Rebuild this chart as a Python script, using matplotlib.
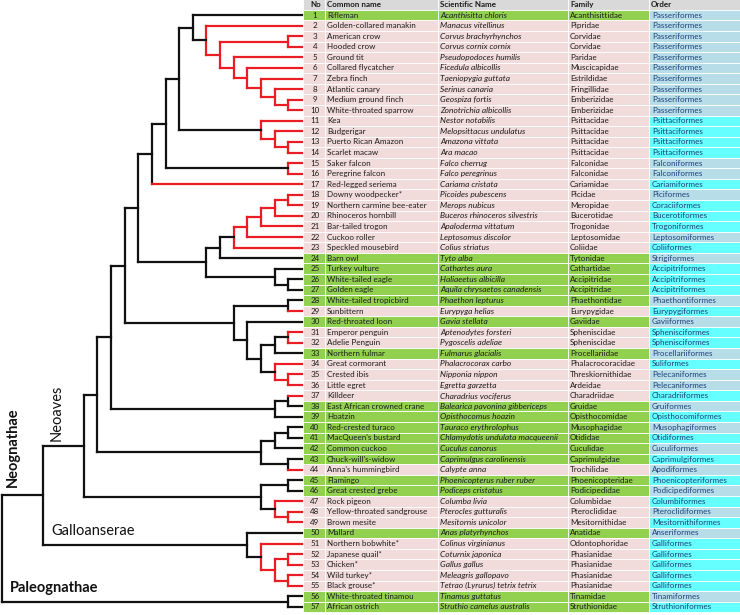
import matplotlib
matplotlib.use("Agg")
import matplotlib.pyplot as plt
from matplotlib.patches import Rectangle

plt.rcParams['font.family'] = ['Lato', 'DejaVu Sans']

# ---- table data ----
common_names = [
    "Rifleman", "Golden-collared manakin", "American crow", "Hooded crow", "Ground tit",
    "Collared flycatcher", "Zebra finch", "Atlantic canary", "Medium ground finch",
    "White-throated sparrow", "Kea", "Budgerigar", "Puerto Rican Amazon", "Scarlet macaw",
    "Saker falcon", "Peregrine falcon", "Red-legged seriema", "Downy woodpecker*",
    "Northern carmine bee-eater", "Rhinoceros hornbill", "Bar-tailed trogon", "Cuckoo roller",
    "Speckled mousebird", "Barn owl", "Turkey vulture", "White-tailed eagle", "Golden eagle",
    "White-tailed tropicbird", "Sunbittern", "Red-throated loon", "Emperor penguin",
    "Adelie Penguin", "Northern fulmar", "Great cormorant", "Crested ibis", "Little egret",
    "Killdeer", "East African crowned crane", "Hoatzin", "Red-crested turaco",
    "MacQueen's bustard", "Common cuckoo", "Chuck-will's-widow", "Anna's hummingbird",
    "Flamingo", "Great crested grebe", "Rock pigeon", "Yellow-throated sandgrouse",
    "Brown mesite", "Mallard", "Northern bobwhite*", "Japanese quail*", "Chicken*",
    "Wild turkey*", "Black grouse*", "White-throated tinamou", "African ostrich"]

sci_names = [
    "Acanthisitta chloris", "Manacus vitellinus", "Corvus brachyrhynchos", "Corvus cornix cornix",
    "Pseudopodoces humilis", "Ficedula albicollis", "Taeniopygia guttata", "Serinus canaria",
    "Geospiza fortis", "Zonotrichia albicollis", "Nestor notabilis", "Melopsittacus undulatus",
    "Amazona vittata", "Ara macao", "Falco cherrug", "Falco peregrinus", "Cariama cristata",
    "Picoides pubescens", "Merops nubicus", "Buceros rhinoceros silvestris", "Apaloderma vittatum",
    "Leptosomus discolor", "Colius striatus", "Tyto alba", "Cathartes aura", "Haliaeetus albicilla",
    "Aquila chrysaetos canadensis", "Phaethon lepturus", "Eurypyga helias", "Gavia stellata",
    "Aptenodytes forsteri", "Pygoscelis adeliae", "Fulmarus glacialis", "Phalacrocorax carbo",
    "Nipponia nippon", "Egretta garzetta", "Charadrius vociferus", "Balearica pavonina gibbericeps",
    "Opisthocomus hoazin", "Tauraco erythrolophus", "Chlamydotis undulata macqueenii",
    "Cuculus canorus", "Caprimulgus carolinensis", "Calypte anna", "Phoenicopterus ruber ruber",
    "Podiceps cristatus", "Columba livia", "Pterocles gutturalis", "Mesitornis unicolor",
    "Anas platyrhynchos", "Colinus virginianus", "Coturnix japonica", "Gallus gallus",
    "Meleagris gallopavo", "Tetrao (Lyrurus) tetrix tetrix", "Tinamus guttatus",
    "Struthio camelus australis"]

families = [
    "Acanthisittidae", "Pipridae", "Corvidae", "Corvidae", "Paridae", "Muscicapidae",
    "Estrildidae", "Fringillidae", "Emberizidae", "Emberizidae", "Psittacidae", "Psittacidae",
    "Psittacidae", "Psittacidae", "Falconidae", "Falconidae", "Cariamidae", "Picidae",
    "Meropidae", "Bucerotidae", "Trogonidae", "Leptosomidae", "Coliidae", "Tytonidae",
    "Cathartidae", "Accipitridae", "Accipitridae", "Phaethontidae", "Eurypygidae", "Gaviidae",
    "Spheniscidae", "Spheniscidae", "Procellariidae", "Phalacrocoracidae", "Threskiornithidae",
    "Ardeidae", "Charadriidae", "Gruidae", "Opisthocomidae", "Musophagidae", "Otididae",
    "Cuculidae", "Caprimulgidae", "Trochilidae", "Phoenicopteridae", "Podicipedidae",
    "Columbidae", "Pteroclididae", "Mesitornithidae", "Anatidae", "Odontophoridae",
    "Phasianidae", "Phasianidae", "Phasianidae", "Phasianidae", "Tinamidae", "Struthionidae"]

orders = (["Passeriformes"] * 10 + ["Psittaciformes"] * 4 + ["Falconiformes"] * 2 + [
    "Cariamiformes", "Piciformes", "Coraciiformes", "Bucerotiformes", "Trogoniformes",
    "Leptosomiformes", "Coliiformes", "Strigiformes", "Accipitriformes", "Accipitriformes",
    "Accipitriformes", "Phaethontiformes", "Eurypygiformes", "Gaviiformes", "Sphenisciformes",
    "Sphenisciformes", "Procellariiformes", "Suliformes", "Pelecaniformes", "Pelecaniformes",
    "Charadriiformes", "Gruiformes", "Opisthocomiformes", "Musophagiformes", "Otidiformes",
    "Cuculiformes", "Caprimulgiformes", "Apodiformes", "Phoenicopteriformes",
    "Podicipediformes", "Columbiformes", "Pteroclidiformes", "Mesitornithiformes",
    "Anseriformes"] + ["Galliformes"] * 5 + ["Tinamiformes", "Struthioniformes"])

# rows highlighted pink (red branches); the rest are green
red_rows = list(range(2, 24)) + [29, 31, 32, 34, 35, 36, 37, 44, 47, 48, 49, 51, 52, 53, 54, 55]
# rows whose Order cell is bright cyan
cyan_rows = [11, 12, 13, 14, 17, 19, 20, 21, 23, 25, 26, 27, 29, 31, 32, 34, 37, 39, 41,
             43, 45, 47, 49, 51, 52, 53, 54, 55, 57]

headers = ["No", "Common name", "Scientific Name", "Family", "Order"]

# ---- tree: leaves are row numbers, internal labels are depth levels ----
passer = "(1,(2,((3,4)1,(5,(6,(7,(8,(9,10)1)2)3)4)5)6)7)8"
psitta = "(11,(12,(13,14)1)2)3"
c151 = "(((" + passer + "," + psitta + ")9,(15,16)1)10,17)11"
c207 = "(((((((18,19)1,20)2,21)3,22)4,23)5,24)6,(25,(26,27)1)2)7"
c233 = "((28,29)1,(30,(((31,32)1,33)2,(34,(35,36)1)2)3)4)5"
c111 = "(((" + c151 + "," + c207 + ")12," + c233 + ")13,((37,38)1,39)2)14"
c97 = "(" + c111 + ",(((40,41)1,42)2,(43,44)1)3)15"
neoaves = "(" + c97 + ",((45,46)1,(47,(48,49)1)2)3)16"
galloans = "(50,(51,((52,53)1,(54,55)1)2)3)4"
tree = "((" + neoaves + "," + galloans + ")19,(56,57)1)22"


def parse(s, i=0):
    if s[i] == "(":
        kids = []
        i += 1
        while True:
            node, i = parse(s, i)
            kids.append(node)
            if s[i] == ",":
                i += 1
            else:
                break
        i += 1  # ')'
        j = i
        while j < len(s) and s[j].isdigit():
            j += 1
        return {"kids": kids, "level": int(s[i:j])}, j
    j = i
    while s[j].isdigit():
        j += 1
    return int(s[i:j]), j


root, _ = parse(tree)

LEAF_X = 302
STEP = 13.65
RED = "#ec1c24"
BLACK = "#111111"

fig = plt.figure(figsize=(7.4, 6.15), dpi=100)
ax = fig.add_axes([0, 0, 1, 1])
ax.set_xlim(0, 740)
ax.set_ylim(57.76, -0.43)
ax.axis("off")


def layout(node):
    # returns (x, y, all_red)
    if isinstance(node, int):
        return LEAF_X, node, node in red_rows
    res = [layout(k) for k in node["kids"]]
    x = LEAF_X - node["level"] * STEP
    ys = [r[1] for r in res]
    y = (min(ys) + max(ys)) / 2
    allred = all(r[2] for r in res)
    col = RED if allred else BLACK
    ax.plot([x, x], [min(ys), max(ys)], color=col, lw=1.6, solid_capstyle="projecting", zorder=3)
    for k, (cx, cy, cred) in zip(node["kids"], res):
        if isinstance(k, int):
            c = RED if cred else BLACK
        else:
            c = col
        ax.plot([x, cx], [cy, cy], color=c, lw=1.6, solid_capstyle="projecting", zorder=3)
    return x, y, allred


layout(root)

# ---- table ----
col_edges = [303, 325, 438, 568, 649, 740]
GREEN = "#92d050"
PINK = "#f2dcdb"
LBLUE = "#b7dee8"
CYAN = "#66ffff"
FS = 5.8
TXT = "#1c1c1c"

for c in range(5):
    ax.add_patch(Rectangle((col_edges[c], -0.5), col_edges[c + 1] - col_edges[c], 1,
                           facecolor="#d9d9d9", edgecolor="white", lw=0.6, zorder=1))
    tx = 310 if c == 0 else col_edges[c] + 2
    ax.text(tx, 0, headers[c], ha="left", va="center", fontsize=FS, fontweight="bold",
            color=TXT, zorder=2)

for i in range(1, 58):
    fill = PINK if i in red_rows else GREEN
    for c in range(5):
        fc = fill if c < 4 else (CYAN if i in cyan_rows else LBLUE)
        ax.add_patch(Rectangle((col_edges[c], i - 0.5), col_edges[c + 1] - col_edges[c], 1,
                               facecolor=fc, edgecolor="white", lw=0.6, zorder=1))
    ax.text(315, i, str(i), ha="center", va="center", fontsize=FS, color=TXT, zorder=2)
    ax.text(col_edges[1] + 2, i, common_names[i - 1], ha="left", va="center", fontsize=FS,
            color=TXT, zorder=2)
    ax.text(col_edges[2] + 2, i, sci_names[i - 1], ha="left", va="center", fontsize=6.0,
            style="italic", color=TXT, zorder=2)
    ax.text(col_edges[3] + 2, i, families[i - 1], ha="left", va="center", fontsize=FS,
            color=TXT, zorder=2)
    ax.text(col_edges[4] + 3, i, orders[i - 1], ha="left", va="center", fontsize=FS,
            color="#1f3f7a", zorder=2)

# ---- clade labels ----
ax.text(13, 41.9, "Neognathae", rotation=90, ha="center", va="center", fontsize=10.5,
        fontweight="bold", color="#111111")
ax.text(57, 38.6, "Neoaves", rotation=90, ha="center", va="center", fontsize=10.5,
        color="#111111")
ax.text(51, 49.8, "Galloanserae", ha="left", va="center", fontsize=10.5, color="#111111")
ax.text(10, 55.2, "Paleognathae", ha="left", va="center", fontsize=10.5, fontweight="bold",
        color="#111111")

fig.savefig("out.png", dpi=100)
